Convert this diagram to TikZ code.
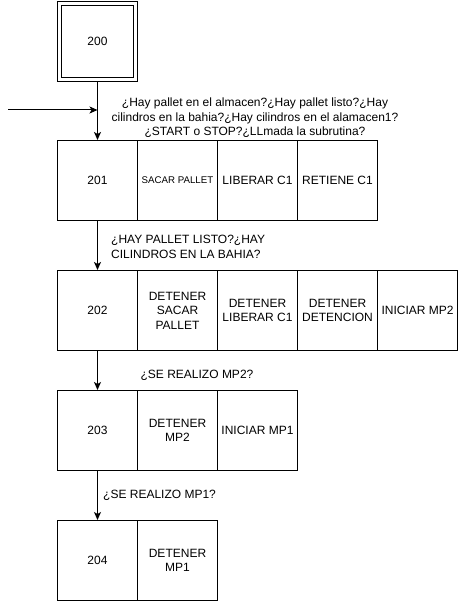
\documentclass[tikz,border=0pt]{standalone}
\usepackage{fontspec}
\setmainfont{Liberation Sans}
\usetikzlibrary{arrows.meta,calc}
\tikzset{
  cell/.style={draw, line width=1pt, minimum width=80pt, minimum height=80pt, inner sep=0pt,
    anchor=north west, align=center, font=\fontsize{12}{14.4}\selectfont},
  small/.style={font=\fontsize{9.7}{12}\selectfont},
  lbl/.style={align=center, inner sep=0pt, font=\fontsize{12}{14.4}\selectfont},
  arr/.style={line width=1pt, -{Stealth[length=8pt,width=7pt,inset=2pt]}}
}
\begin{document}
\begin{tikzpicture}[x=1pt,y=-1pt]
\useasboundingbox (0,0) rectangle (458,601);
% step 200
\node[cell] (s200) at (57,1) {200};
\draw[line width=1pt] ($(s200.north west)+(4.5,4.5)$) rectangle ($(s200.south east)+(-4.5,-4.5)$);
% step 201
\node[cell] (s201) at (57,140) {201};
\node[cell,small] (a201) at (137,140) {SACAR PALLET};
\node[cell] (b201) at (217,140) {LIBERAR C1};
\node[cell] (c201) at (297,140) {RETIENE C1};
% step 202
\node[cell] (s202) at (57,270) {202};
\node[cell] (a202) at (137,270) {DETENER\\SACAR\\PALLET};
\node[cell] (b202) at (217,270) {DETENER\\LIBERAR C1};
\node[cell] (c202) at (297,270) {DETENER\\DETENCION};
\node[cell] (d202) at (377,270) {INICIAR MP2};
% step 203
\node[cell] (s203) at (57,390) {203};
\node[cell] (a203) at (137,390) {DETENER\\MP2};
\node[cell] (b203) at (217,390) {INICIAR MP1};
% step 204
\node[cell] (s204) at (57,520) {204};
\node[cell] (a204) at (137,520) {DETENER\\MP1};
% connectors
\coordinate (in) at (8,110);
\draw[arr] (s200.south) -- (s201.north);
\draw[arr] (in) -- (in -| s200.south);
\draw[arr] (s201.south) -- (s202.north);
\draw[arr] (s202.south) -- (s203.north);
\draw[arr] (s203.south) -- (s204.north);
% labels
\node[lbl] (t1) at (255,118) {¿Hay pallet en el almacen?¿Hay pallet listo?¿Hay\\cilindros en la bahia?¿Hay cilindros en el alamacen1?\\¿START o STOP?¿LLmada la subrutina?};
\node[lbl, align=left, anchor=west] (t2) at (111,247) {¿HAY PALLET LISTO?¿HAY\\CILINDROS EN LA BAHIA?};
\node[lbl] (t3) at (197,375) {¿SE REALIZO MP2?};
\node[lbl, anchor=west] (t4) at (103,495) {¿SE REALIZO MP1?};
\end{tikzpicture}
\end{document}
